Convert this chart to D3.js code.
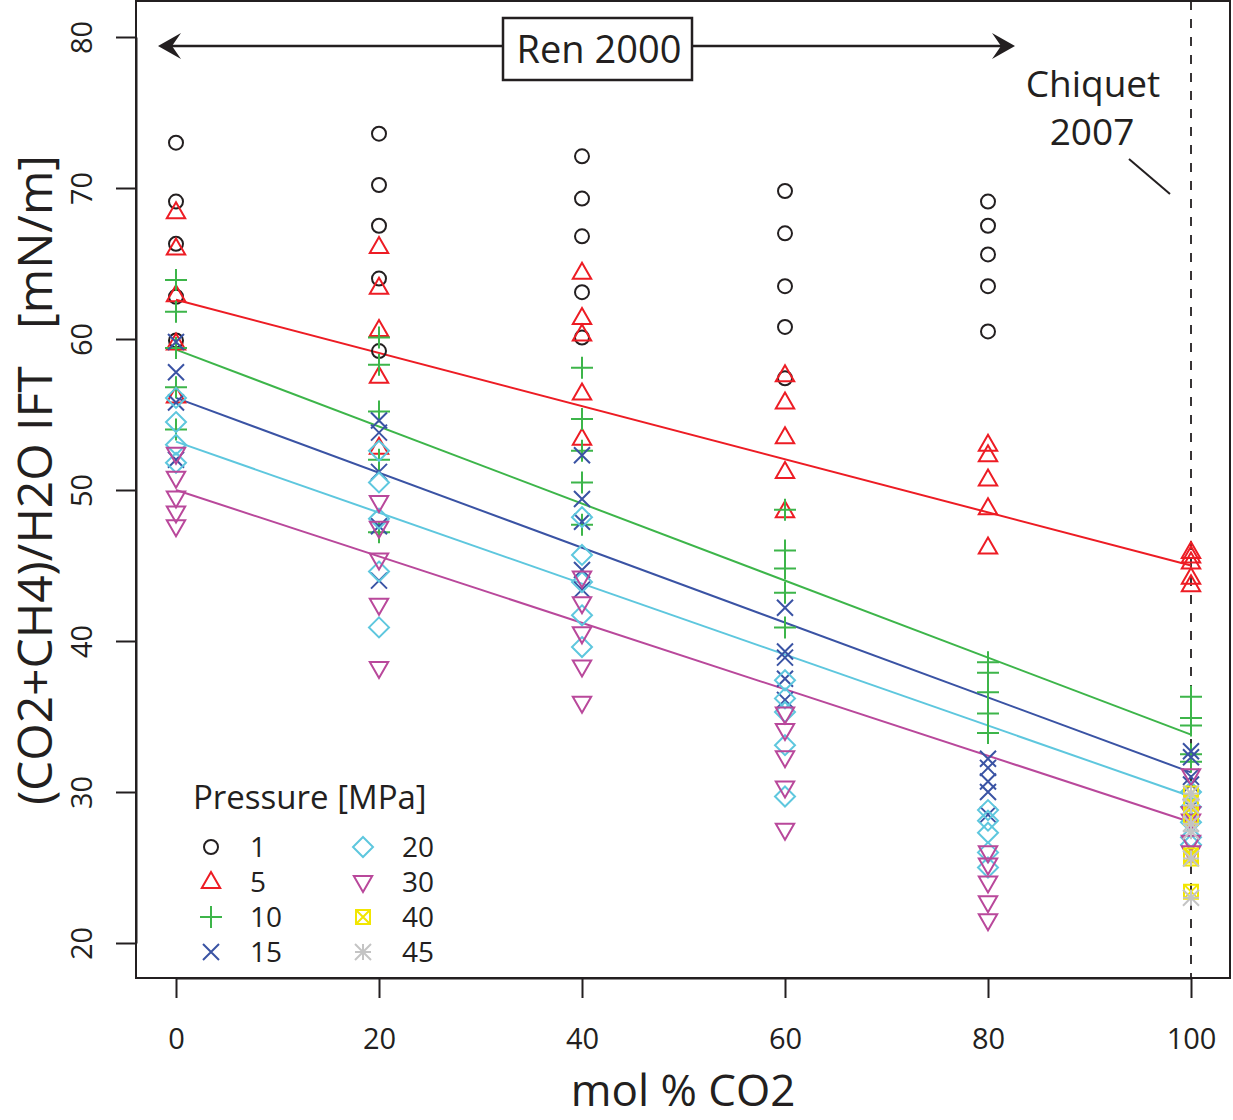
<!DOCTYPE html>
<html>
<head>
<meta charset="utf-8">
<script src="https://cdn.jsdelivr.net/npm/d3@7"></script>
<style>
  html, body { margin: 0; padding: 0; background: #fff; }
  svg { display: block; font-family: "Open Sans", "Noto Sans", sans-serif; }
</style>
</head>
<body>
<svg id="chart" width="1233" height="1120"></svg>
<script>
// Mole fraction of CO2 in the gas phase (%)
const molCO2 = [0, 20, 40, 60, 80, 100];

// Interfacial tension measurements [mN/m], grouped by pressure, per CO2 fraction
const ift1  = [[0, [73.0, 69.1, 66.3, 62.8, 59.9]], [20, [73.6, 70.2, 67.5, 64.0, 59.2]],
               [40, [72.1, 69.3, 66.8, 63.1, 60.1]], [60, [69.8, 67.0, 63.5, 60.8, 57.4]],
               [80, [69.1, 67.5, 65.6, 63.5, 60.5]]];
const ift5  = [[0, [68.4, 66.0, 62.9, 59.7, 56.2]], [20, [66.1, 63.4, 60.6, 57.5, 52.8]],
               [40, [64.4, 61.4, 60.3, 56.4, 53.4]], [60, [57.6, 55.8, 53.5, 51.2, 48.6]],
               [80, [53.0, 52.3, 50.7, 48.8, 46.2]], [100, [45.9, 45.6, 45.2, 44.2, 43.7]]];
const ift10 = [[0, [63.9, 61.8, 59.4, 56.8, 54.0]], [20, [60.1, 58.3, 55.2, 52.0, 47.2]],
               [40, [58.1, 54.7, 52.6, 50.5, 47.7]], [60, [48.7, 46.0, 44.8, 43.2, 40.9]],
               [80, [38.6, 37.9, 36.6, 35.2, 33.9]], [100, [36.3, 34.9, 34.4, 32.5, 32.0]]];
const ift15 = [[0, [59.8, 57.8, 55.8, 52.0]], [20, [54.6, 53.8, 51.2, 47.6, 44.0]],
               [40, [52.3, 49.4, 47.9, 44.7, 43.4]], [60, [42.2, 39.3, 38.9, 37.5, 36.1]],
               [80, [32.2, 31.6, 30.7, 30.0, 28.5]], [100, [32.7, 32.3, 31.0, 30.5, 29.0]]];
const ift20 = [[0, [56.1, 54.5, 53.0, 51.8]], [20, [52.6, 50.5, 48.1, 44.6, 40.9]],
               [40, [48.2, 45.7, 43.9, 41.7, 39.6]], [60, [37.4, 36.2, 35.3, 33.1, 29.7]],
               [80, [28.8, 28.1, 27.3, 26.0, 25.0]], [100, [30.0, 29.0, 28.0, 27.0, 26.5]]];
const ift30 = [[0, [52.4, 50.8, 49.5, 48.5, 47.6]], [20, [49.2, 47.5, 45.4, 42.4, 38.2]],
               [40, [44.2, 42.5, 40.5, 38.3, 35.9]], [60, [35.2, 34.1, 32.3, 30.3, 27.5]],
               [80, [26.0, 25.2, 24.0, 22.7, 21.5]], [100, [31.1, 28.6, 28.1, 26.7, 26.0]]];
const ift40 = [[100, [29.9, 29.3, 28.3, 25.8, 25.6, 23.4]]];
const ift45 = [[100, [29.9, 29.1, 27.9, 27.4, 25.6, 23.0]]];

// Linear fits of the Ren 2000 + Chiquet 2007 data: IFT at 0 and 100 mol % CO2
const fitPressures = [5, 10, 15, 20, 30];
const fitAt0   = [62.6, 59.3, 56.1, 53.2, 50.0];
const fitAt100 = [45.0, 33.8, 31.3, 29.7, 28.0];

// Pressure levels [MPa] and their symbols / colours
const pressures = [1, 5, 10, 15, 20, 30, 40, 45];
const pressureData = [ift1, ift5, ift10, ift15, ift20, ift30, ift40, ift45];
const symbolKinds = ["circle", "triUp", "plus", "cross", "diamond", "triDown", "boxX", "star"];
const colours = ["#231f20", "#ed1c24", "#3db54a", "#3a53a4", "#5ec7de", "#b9489b", "#f2e600", "#c4c4c4"];

// Axis ticks
const xTicks = [0, 20, 40, 60, 80, 100];
const yTicks = [20, 30, 40, 50, 60, 70, 80];

const svg = d3.select("#chart");
const x = d3.scaleLinear().domain([0, 100]).range([176, 1191]);
const y = d3.scaleLinear().domain([20, 80]).range([943, 37]);

const plot = { left: 136, right: 1230, top: 1, bottom: 978 };

// Open plotting symbols, centred on (0,0)
function symbolPath(kind) {
  switch (kind) {
    case "circle": { const r = 7; return `M${r},0A${r},${r} 0 1,1 ${-r},0A${r},${r} 0 1,1 ${r},0Z`; }
    case "triUp":  { const h = 16, w = 9.2; return `M0,${-h * 0.62}L${w},${h * 0.38}L${-w},${h * 0.38}Z`; }
    case "triDown":{ const h = 16, w = 9.2; return `M0,${h * 0.62}L${w},${-h * 0.38}L${-w},${-h * 0.38}Z`; }
    case "plus":   { const s = 11; return `M${-s},0H${s}M0,${-s}V${s}`; }
    case "cross":  { const s = 8; return `M${-s},${-s}L${s},${s}M${-s},${s}L${s},${-s}`; }
    case "diamond":{ const s = 10; return `M0,${-s}L${s},0L0,${s}L${-s},0Z`; }
    case "boxX":   { const s = 7; return `M${-s},${-s}H${s}V${s}H${-s}Z M${-s},${-s}L${s},${s}M${-s},${s}L${s},${-s}`; }
    case "star":   { const s = 8, d = 8; return `M${-s},0H${s}M0,${-s}V${s}M${-d},${-d}L${d},${d}M${-d},${d}L${d},${-d}`; }
  }
}

// Plot frame
svg.append("rect")
  .attr("x", plot.left).attr("y", plot.top)
  .attr("width", plot.right - plot.left).attr("height", plot.bottom - plot.top)
  .attr("fill", "none").attr("stroke", "#231f20").attr("stroke-width", 2);

// Axes
const yAxis = svg.append("g")
  .attr("transform", `translate(${plot.left},0)`)
  .call(d3.axisLeft(y).tickValues(yTicks).tickSize(20).tickSizeOuter(0).tickPadding(0));
yAxis.select(".domain").attr("stroke", "#231f20").attr("stroke-width", 2);
yAxis.selectAll(".tick line").attr("stroke", "#231f20").attr("stroke-width", 2);
yAxis.selectAll(".tick text")
  .attr("x", 0).attr("y", 0).attr("dy", null)
  .attr("transform", "translate(-56,0) rotate(-90)")
  .attr("text-anchor", "middle").attr("dominant-baseline", "central")
  .attr("font-size", 29).attr("fill", "#231f20")
  .style("font-family", "'Open Sans', sans-serif");

const xAxis = svg.append("g")
  .attr("transform", `translate(0,${plot.bottom})`)
  .call(d3.axisBottom(x).tickValues(xTicks).tickSize(20).tickSizeOuter(0).tickPadding(0));
xAxis.select(".domain").attr("stroke", "#231f20").attr("stroke-width", 2);
xAxis.selectAll(".tick line").attr("stroke", "#231f20").attr("stroke-width", 2);
xAxis.selectAll(".tick text")
  .attr("y", 71).attr("dy", null)
  .attr("font-size", 29).attr("fill", "#231f20")
  .style("font-family", "'Open Sans', sans-serif");

// Axis titles
svg.append("text")
  .attr("x", 683).attr("y", 1106)
  .attr("text-anchor", "middle").attr("font-size", 44).attr("fill", "#231f20")
  .text("mol % CO2");
svg.append("text")
  .attr("transform", "translate(52,480) rotate(-90)")
  .attr("text-anchor", "middle").attr("font-size", 48).attr("fill", "#231f20")
  .attr("xml:space", "preserve")
  .text("(CO2+CH4)/H2O IFT   [mN/m]");

// Pure-CO2 reference (Chiquet 2007)
svg.append("line")
  .attr("x1", x(100)).attr("x2", x(100))
  .attr("y1", plot.top).attr("y2", plot.bottom)
  .attr("stroke", "#231f20").attr("stroke-width", 1.8).attr("stroke-dasharray", "9,9");

// Fitted lines
const fitLines = svg.append("g");
fitPressures.forEach((p, i) => {
  const c = colours[pressures.indexOf(p)];
  fitLines.append("line")
    .attr("x1", x(0)).attr("y1", y(fitAt0[i]))
    .attr("x2", x(100)).attr("y2", y(fitAt100[i]))
    .attr("stroke", c).attr("stroke-width", 2);
});

// Data points
const pts = svg.append("g");
pressureData.forEach((groups, i) => {
  const path = symbolPath(symbolKinds[i]);
  groups.forEach(([xc, vals]) => {
    vals.forEach(v => {
      pts.append("path")
        .attr("d", path)
        .attr("transform", `translate(${x(xc)},${y(v)})`)
        .attr("fill", "none").attr("stroke", colours[i]).attr("stroke-width", 2);
    });
  });
});

// Ren 2000 range annotation
const arrowY = 46;
const arrow = svg.append("g").attr("stroke", "#231f20").attr("fill", "#231f20");
arrow.append("line").attr("x1", 168).attr("x2", 1005).attr("y1", arrowY).attr("y2", arrowY)
  .attr("stroke-width", 2.5);
arrow.append("path").attr("stroke", "none")
  .attr("d", `M158,${arrowY} L181,${arrowY - 13} L172,${arrowY} L181,${arrowY + 13} Z`);
arrow.append("path").attr("stroke", "none")
  .attr("d", `M1015,${arrowY} L992,${arrowY - 13} L1001,${arrowY} L992,${arrowY + 13} Z`);
svg.append("rect")
  .attr("x", 503).attr("y", 18).attr("width", 189).attr("height", 62)
  .attr("fill", "#fff").attr("stroke", "#231f20").attr("stroke-width", 2.5);
svg.append("text")
  .attr("x", 599).attr("y", 63).attr("text-anchor", "middle")
  .attr("font-size", 38).attr("fill", "#231f20").text("Ren 2000");

// Chiquet 2007 annotation
svg.append("text")
  .attr("x", 1093).attr("y", 97).attr("text-anchor", "middle")
  .attr("font-size", 37).attr("fill", "#231f20").text("Chiquet");
svg.append("text")
  .attr("x", 1092).attr("y", 145).attr("text-anchor", "middle")
  .attr("font-size", 37).attr("fill", "#231f20").text("2007");
svg.append("line")
  .attr("x1", 1129).attr("y1", 159).attr("x2", 1170).attr("y2", 194)
  .attr("stroke", "#231f20").attr("stroke-width", 2);

// Legend
const legend = svg.append("g");
legend.append("text")
  .attr("x", 193).attr("y", 809).attr("font-size", 33).attr("fill", "#231f20")
  .text("Pressure [MPa]");
pressures.forEach((p, i) => {
  const col = Math.floor(i / 4), row = i % 4;
  const sx = 211 + col * 152, ly = 847 + row * 35;
  legend.append("path")
    .attr("d", symbolPath(symbolKinds[i]))
    .attr("transform", `translate(${sx},${ly})`)
    .attr("fill", "none").attr("stroke", colours[i]).attr("stroke-width", 2);
  legend.append("text")
    .attr("x", sx + 39).attr("y", ly + 10).attr("font-size", 28).attr("fill", "#231f20")
    .text(p);
});
</script>
</body>
</html>
